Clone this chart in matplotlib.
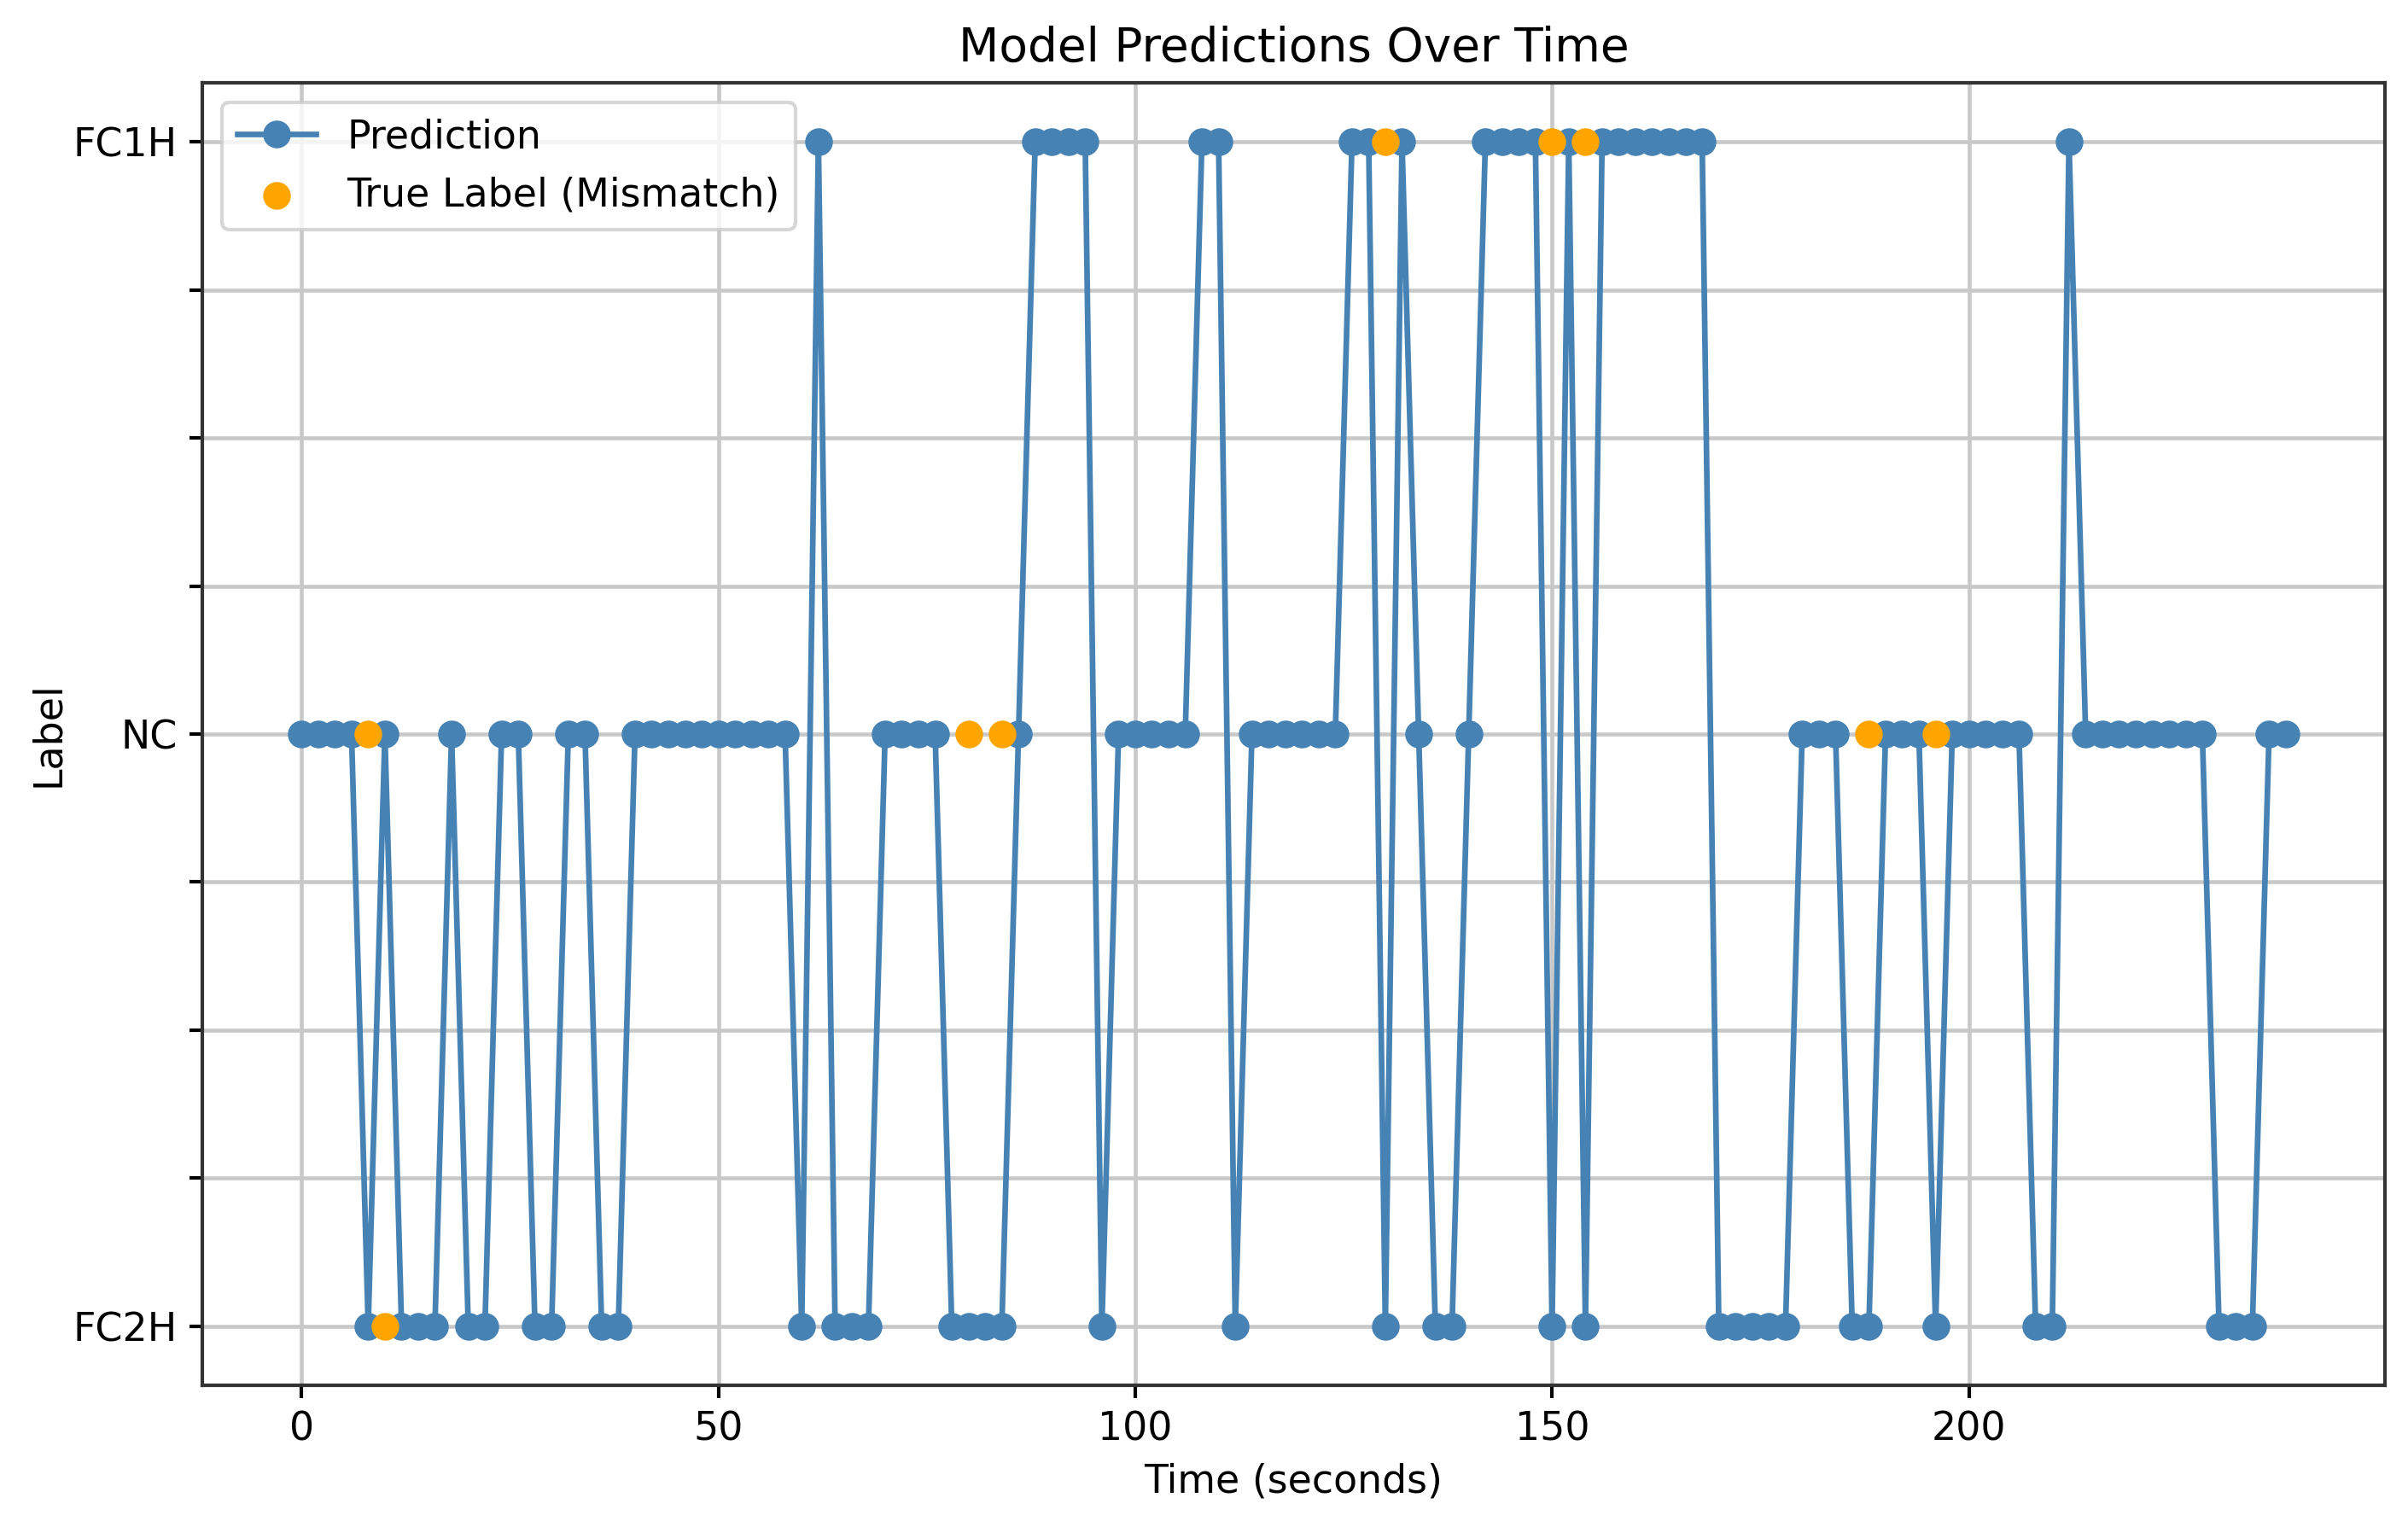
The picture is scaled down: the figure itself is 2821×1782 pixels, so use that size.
import matplotlib
matplotlib.use("Agg")
import matplotlib.pyplot as plt

times = [0, 2, 4, 6, 8, 10, 12, 14, 16, 18, 20, 22, 24, 26, 28, 30, 32, 34, 36, 38,
         40, 42, 44, 46, 48, 50, 52, 54, 56, 58, 60, 62, 64, 66, 68, 70, 72, 74, 76, 78,
         80, 82, 84, 86, 88, 90, 92, 94, 96, 98, 100, 102, 104, 106, 108, 110, 112, 114, 116, 118,
         120, 122, 124, 126, 128, 130, 132, 134, 136, 138, 140, 142, 144, 146, 148, 150, 152, 154, 156, 158,
         160, 162, 164, 166, 168, 170, 172, 174, 176, 178, 180, 182, 184, 186, 188, 190, 192, 194, 196, 198,
         200, 202, 204, 206, 208, 210, 212, 214, 216, 218, 220, 222, 224, 226, 228, 230, 232, 234, 236, 238]

predictions = [
    'NC', 'NC', 'NC', 'NC', 'FC2H', 'NC', 'FC2H', 'FC2H', 'FC2H', 'NC',
    'FC2H', 'FC2H', 'NC', 'NC', 'FC2H', 'FC2H', 'NC', 'NC', 'FC2H', 'FC2H',
    'NC', 'NC', 'NC', 'NC', 'NC', 'NC', 'NC', 'NC', 'NC', 'NC',
    'FC2H', 'FC1H', 'FC2H', 'FC2H', 'FC2H', 'NC', 'NC', 'NC', 'NC', 'FC2H',
    'FC2H', 'FC2H', 'FC2H', 'NC', 'FC1H', 'FC1H', 'FC1H', 'FC1H', 'FC2H', 'NC',
    'NC', 'NC', 'NC', 'NC', 'FC1H', 'FC1H', 'FC2H', 'NC', 'NC', 'NC',
    'NC', 'NC', 'NC', 'FC1H', 'FC1H', 'FC2H', 'FC1H', 'NC', 'FC2H', 'FC2H',
    'NC', 'FC1H', 'FC1H', 'FC1H', 'FC1H', 'FC2H', 'FC1H', 'FC2H', 'FC1H', 'FC1H',
    'FC1H', 'FC1H', 'FC1H', 'FC1H', 'FC1H', 'FC2H', 'FC2H', 'FC2H', 'FC2H', 'FC2H',
    'NC', 'NC', 'NC', 'FC2H', 'FC2H', 'NC', 'NC', 'NC', 'FC2H', 'NC',
    'NC', 'NC', 'NC', 'NC', 'FC2H', 'FC2H', 'FC1H', 'NC', 'NC', 'NC',
    'NC', 'NC', 'NC', 'NC', 'NC', 'FC2H', 'FC2H', 'FC2H', 'NC', 'NC',
]

mismatch_times = [8, 10, 80, 84, 130, 150, 154, 188, 196]
mismatch_true = ['NC', 'FC2H', 'NC', 'NC', 'FC1H', 'FC1H', 'FC1H', 'NC', 'NC']

class_names = ['FC2H', 'NC', 'FC1H']
class_codes = {'FC2H': 0, 'NC': 1, 'FC1H': 2}

ytick_positions = [0, 0.25, 0.5, 0.75, 1, 1.25, 1.5, 1.75, 2]
ytick_labels = ['FC2H', '', '', '', 'NC', '', '', '', 'FC1H']
xtick_positions = [0, 50, 100, 150, 200]

pred_codes = [class_codes[p] for p in predictions]
true_codes = [class_codes[t] for t in mismatch_true]

plt.rcParams['font.size'] = 11
plt.rcParams['axes.linewidth'] = 1.0
plt.rcParams['xtick.major.width'] = 1.0
plt.rcParams['ytick.major.width'] = 1.0

W, H = 2821, 1782
fig = plt.figure(figsize=(W / 300, H / 300), dpi=300)
ax = fig.add_axes([237 / W, 1 - 1623 / H, (2794 - 237) / W, (1623 - 97) / H])

ax.plot(times, pred_codes, marker='o', color='steelblue', linewidth=1.6,
        markersize=6.8, label='Prediction')
ax.scatter(mismatch_times, true_codes, color='orange', s=46,
           label='True Label (Mismatch)', zorder=3)

ax.set_yticks(ytick_positions)
ax.set_yticklabels(ytick_labels)
ax.set_xticks(xtick_positions)
ax.set_xlabel('Time (seconds)', fontsize=11)
ax.set_ylabel('Label', fontsize=11, labelpad=1.5)
ax.set_title('Model Predictions Over Time', fontsize=13.2)
ax.grid(True, color='#c8c8c8', linewidth=1.1)
for s in ax.spines.values():
    s.set_color('#333333')
ax.legend(loc='upper left', fontsize=11)

fig.savefig('out.png', dpi=300)
